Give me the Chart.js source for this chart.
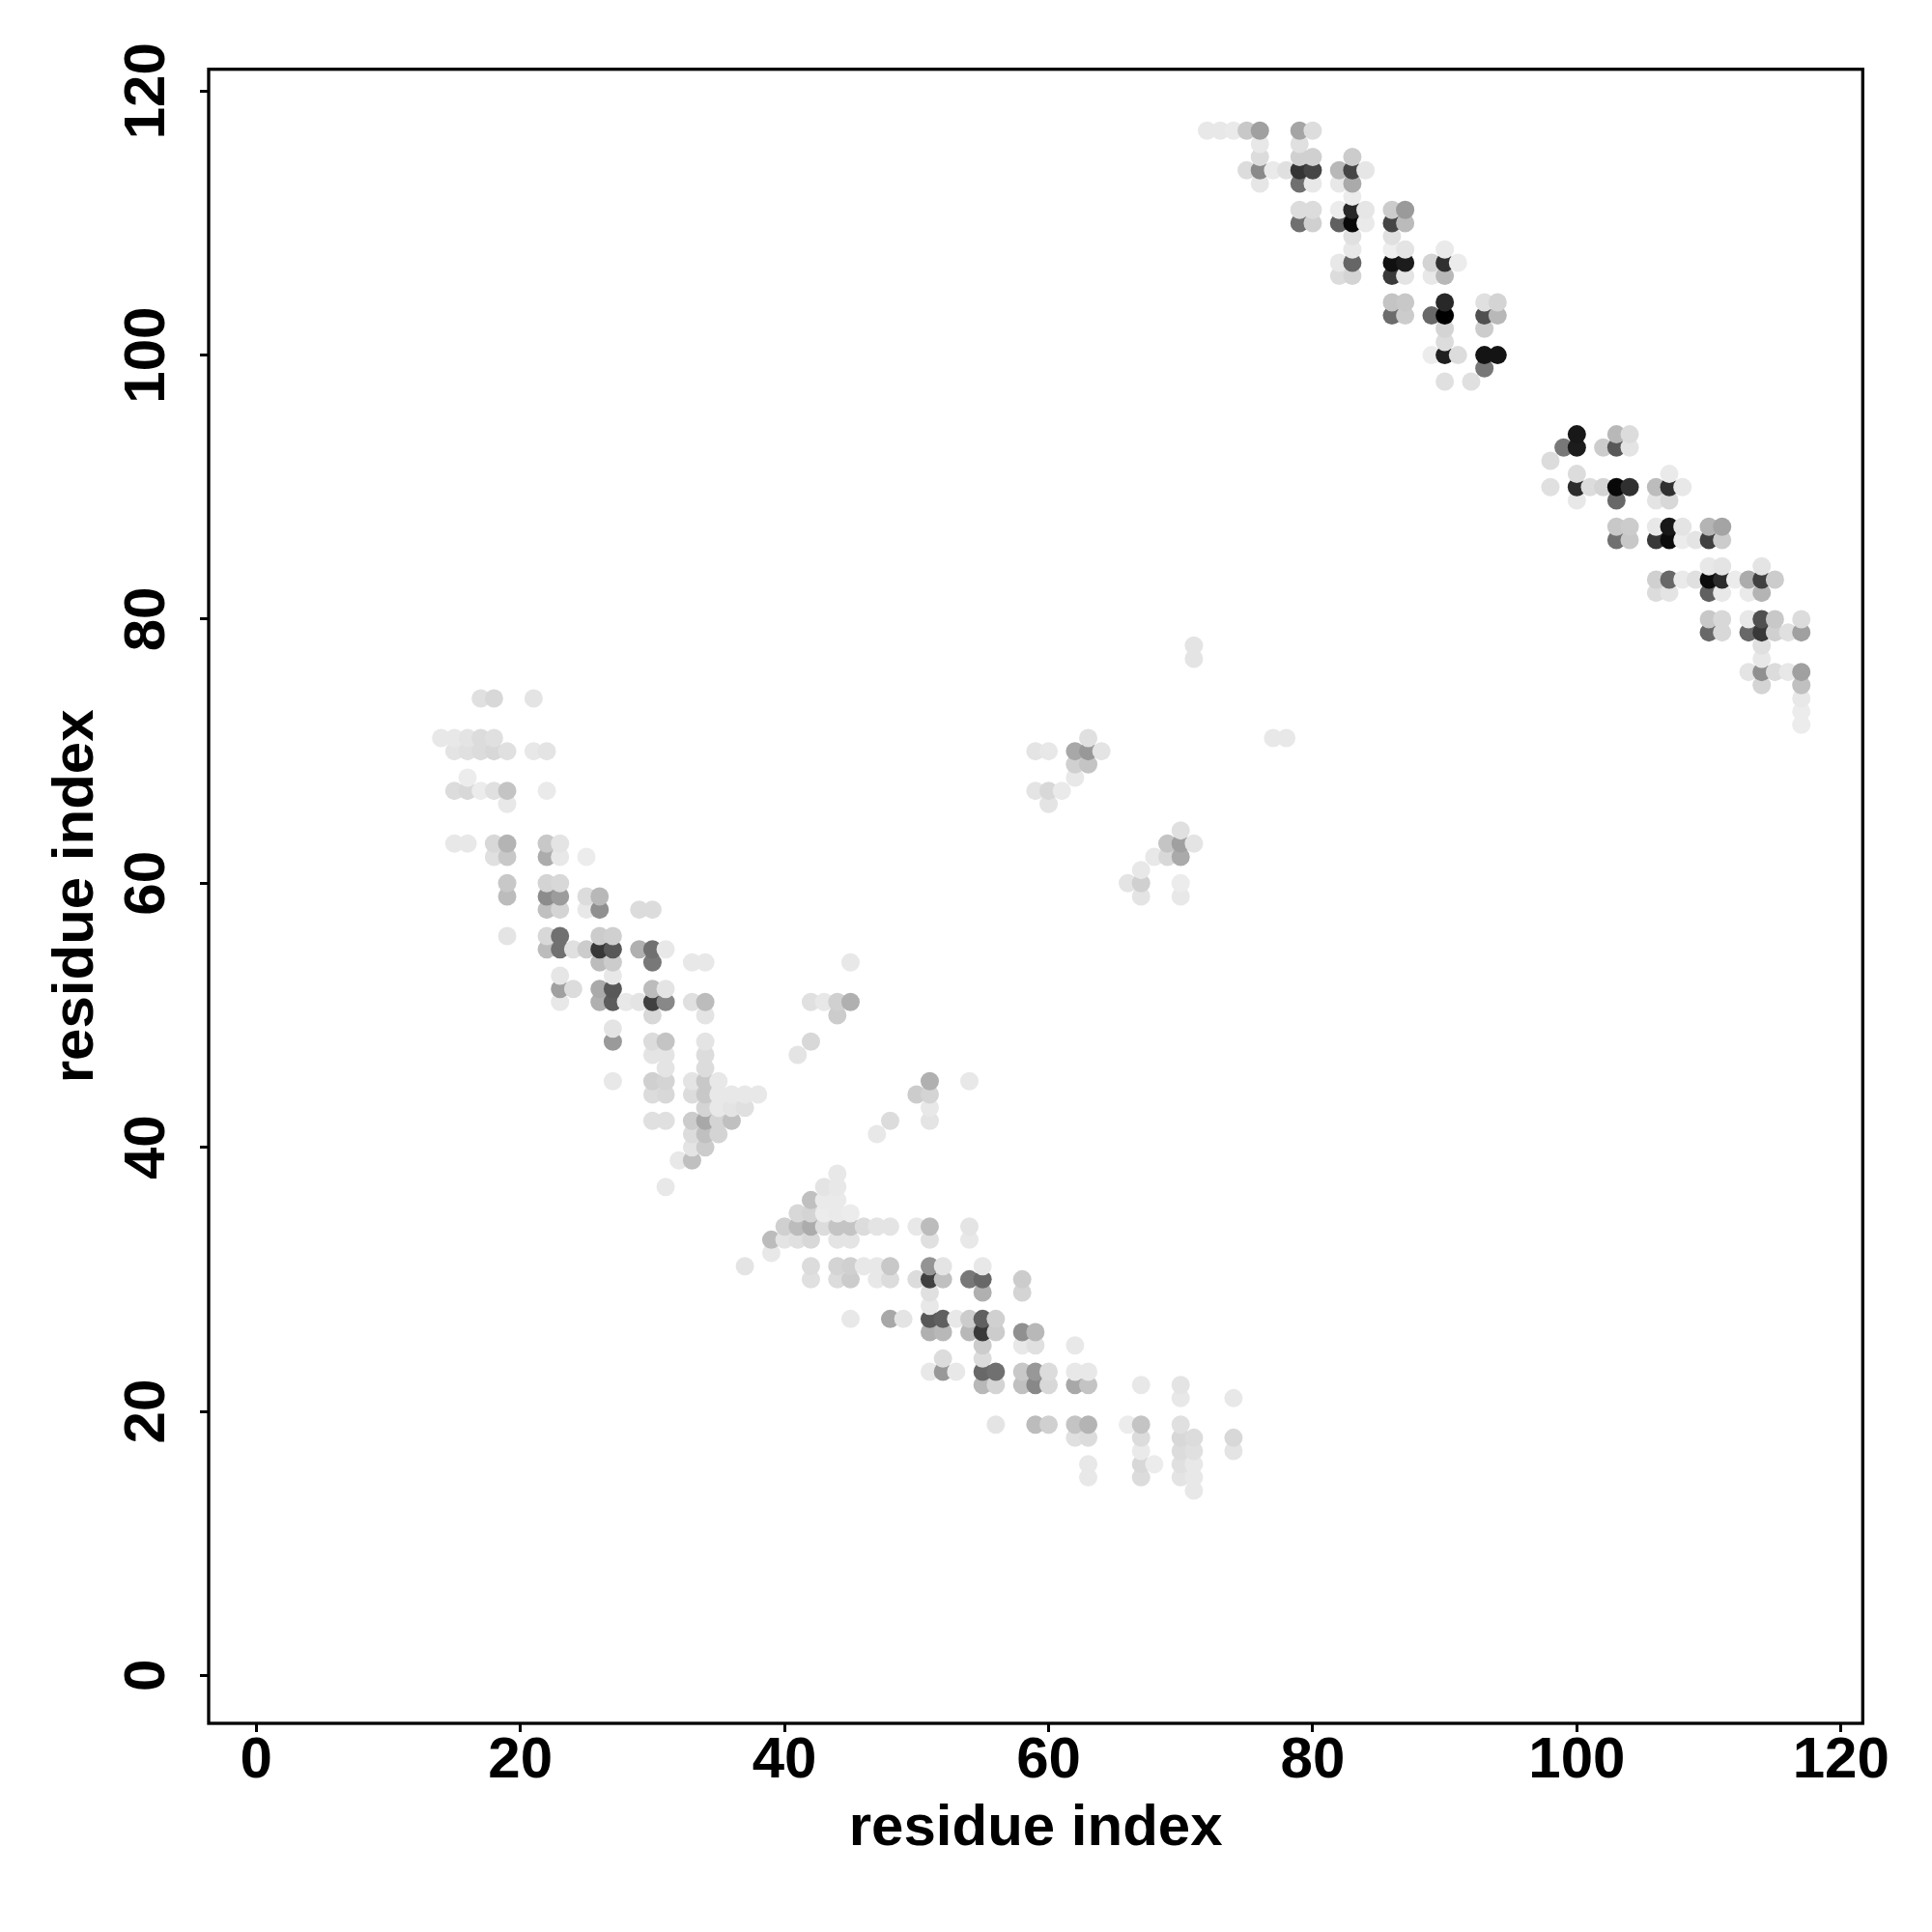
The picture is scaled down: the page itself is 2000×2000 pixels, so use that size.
<!DOCTYPE html>
<html>
<head>
<meta charset="utf-8">
<script src="https://cdn.jsdelivr.net/npm/chart.js@4/dist/chart.umd.min.js"></script>
<style>
  html, body { margin: 0; padding: 0; background: #fff; }
  canvas { display: block; }
</style>
</head>
<body>
<canvas id="chart" width="2000" height="2000"></canvas>
<script>
var axisTitle = 'residue index';
var tickValues = [0, 20, 40, 60, 80, 100, 120];

// one entry per row of the map: y residue, x residues on that row, grey level of each dot
var rowY = [117, 116, 115, 114, 113, 112, 111, 110, 109, 108, 107, 106, 104, 103, 102, 101, 100, 99, 98,
  94, 93, 92, 91, 90, 89, 87, 86, 84, 83, 82, 80, 79, 78, 77, 76, 75, 74, 73, 72, 71, 70, 69, 68, 67, 66,
  64, 63, 62, 61, 60, 59, 58, 56, 55, 54, 53, 52, 51, 50, 49, 48, 47, 46, 45, 44, 43, 42, 41, 40, 39, 38,
  37, 36, 35, 34, 33, 32, 31, 30, 29, 28, 27, 26, 25, 24, 23, 22, 21, 19, 18, 17, 16, 15, 14];

var rowX = [
  [72, 73, 74, 75, 76, 79, 80],
  [76, 79],
  [76, 79, 80, 83],
  [75, 76, 77, 78, 79, 80, 82, 83, 84],
  [76, 79, 80, 82, 83],
  [83],
  [79, 80, 82, 83, 84, 86, 87],
  [79, 80, 82, 83, 84, 86, 87],
  [83, 86],
  [83, 86, 87, 90],
  [82, 83, 86, 87, 89, 90, 91],
  [82, 83, 86, 87, 89, 90],
  [86, 87, 90, 93, 94],
  [86, 87, 89, 90, 93, 94],
  [90, 93],
  [90],
  [89, 90, 91, 93, 94],
  [93],
  [90, 92],
  [100, 103, 104],
  [99, 100, 102, 103, 104],
  [98],
  [100, 107],
  [98, 100, 101, 102, 103, 104, 106, 107, 108],
  [100, 103, 106, 107],
  [103, 104, 106, 107, 108, 110, 111],
  [103, 104, 106, 107, 108, 109, 110, 111],
  [110, 111, 114],
  [106, 107, 108, 109, 110, 111, 112, 113, 114, 115],
  [106, 107, 110, 111, 113, 114],
  [110, 111, 113, 114, 115, 117],
  [110, 111, 113, 114, 115, 116, 117],
  [71, 114],
  [71, 114],
  [113, 114, 115, 116, 117],
  [114, 117],
  [17, 18, 21, 117],
  [117],
  [117],
  [14, 15, 16, 17, 18, 63, 77, 78],
  [15, 16, 17, 18, 19, 21, 22, 59, 60, 62, 63, 64],
  [62, 63],
  [16, 62],
  [15, 16, 17, 18, 19, 22, 59, 60, 61],
  [19, 60],
  [70],
  [15, 16, 18, 19, 22, 23, 69, 70, 71],
  [18, 19, 22, 23, 25, 68, 69, 70],
  [67],
  [19, 22, 23, 66, 67, 70],
  [19, 22, 23, 25, 26, 67, 70],
  [22, 23, 25, 26, 29, 30],
  [19, 22, 23, 26, 27],
  [22, 23, 24, 25, 26, 27, 29, 30, 31],
  [26, 27, 30, 33, 34, 45],
  [23, 27],
  [23, 24, 26, 27, 30, 31],
  [23, 26, 27, 28, 29, 30, 31, 33, 34, 42, 43, 44, 45],
  [30, 34, 44],
  [27],
  [27, 30, 31, 34, 42],
  [30, 31, 34, 41],
  [31, 34],
  [27, 30, 31, 33, 34, 35, 51, 54],
  [30, 31, 33, 34, 35, 36, 37, 38, 50, 51],
  [34, 35, 36, 37, 51],
  [30, 31, 33, 34, 35, 36, 48, 51],
  [33, 34, 35, 47],
  [33, 34],
  [32, 33],
  [44],
  [31, 43, 44],
  [42, 43, 44],
  [41, 42, 43, 44, 45],
  [40, 41, 42, 43, 44, 45, 46, 47, 48, 50, 51, 54],
  [39, 40, 41, 42, 44, 45, 51, 54],
  [39],
  [37, 42, 44, 45, 46, 47, 48, 51, 52, 55],
  [42, 44, 45, 47, 48, 50, 51, 52, 54, 55, 58],
  [51, 55, 58],
  [51],
  [45, 48, 49, 51, 52, 53, 54, 55, 56],
  [51, 52, 54, 55, 56, 58, 59],
  [55, 58, 59, 62],
  [52, 55],
  [51, 52, 53, 55, 56, 58, 59, 60, 62, 63],
  [55, 56, 58, 59, 60, 62, 63, 67, 70],
  [70, 74],
  [56, 59, 60, 62, 63, 66, 67, 70],
  [62, 63, 67, 70, 71, 74],
  [67, 70, 71, 74],
  [63, 67, 68, 70, 71],
  [63, 67, 70, 71],
  [71]
];

var rowGrey = [
  [0xe8, 0xe8, 0xea, 0xc8, 0xa0, 0xa5, 0xdd],
  [0xe8, 0xe0],
  [0xdc, 0xd0, 0xd0, 0xcc],
  [0xdc, 0x8a, 0xea, 0xe0, 0x35, 0x45, 0xb8, 0x45, 0xe6],
  [0xe6, 0x70, 0xe8, 0xe8, 0xaa],
  [0xec],
  [0xdc, 0xdc, 0xec, 0x28, 0xe6, 0xcc, 0x9a],
  [0x70, 0xd0, 0x60, 0x08, 0xea, 0x45, 0xbb],
  [0xe0, 0xe0],
  [0xe8, 0xee, 0xe4, 0xea],
  [0xe8, 0x66, 0x10, 0x1c, 0xd4, 0x30, 0xec],
  [0xdc, 0xd4, 0x3a, 0xe4, 0xe8, 0xb8],
  [0xc4, 0xc8, 0x28, 0xe0, 0xd4],
  [0x6c, 0xcc, 0x68, 0x00, 0x50, 0xb8],
  [0xd4, 0xcc],
  [0xdc],
  [0xec, 0x20, 0xdc, 0x14, 0x14],
  [0x78],
  [0xe0, 0xe0],
  [0x18, 0xb8, 0xdc],
  [0x78, 0x1c, 0xcc, 0x58, 0xe4],
  [0xdc],
  [0xdc, 0xea],
  [0xe0, 0x2c, 0xdc, 0xd4, 0x08, 0x30, 0xbc, 0x30, 0xe8],
  [0xe8, 0x68, 0xe4, 0xd8],
  [0xc8, 0xcc, 0xe8, 0x18, 0xe4, 0xb4, 0xa4],
  [0x70, 0xc8, 0x38, 0x0c, 0xec, 0xe4, 0x40, 0xcc],
  [0xe8, 0xe4, 0xe4],
  [0xd0, 0x68, 0xea, 0xe0, 0x0c, 0x2c, 0xec, 0xac, 0x40, 0xcc],
  [0xdc, 0xe4, 0x60, 0xe8, 0xea, 0xb4],
  [0xc8, 0xd8, 0xe8, 0x50, 0xc8, 0xdc],
  [0x68, 0xd8, 0x68, 0x38, 0xd0, 0xe0, 0xa0],
  [0xe4, 0xe0],
  [0xe4, 0xe8],
  [0xe4, 0x90, 0xdc, 0xe8, 0xa0],
  [0xd4, 0xc0],
  [0xe0, 0xd8, 0xe4, 0xe8],
  [0xec],
  [0xec],
  [0xe8, 0xe8, 0xe4, 0xdc, 0xe0, 0xe0, 0xe8, 0xe8],
  [0xe4, 0xe0, 0xdc, 0xd8, 0xe0, 0xe8, 0xe4, 0xe4, 0xe8, 0xa8, 0x98, 0xe4],
  [0xd0, 0xc4],
  [0xec, 0xe8],
  [0xdc, 0xd8, 0xec, 0xe0, 0xc4, 0xea, 0xe4, 0xd8, 0xea],
  [0xe8, 0xe4],
  [0xe0],
  [0xe8, 0xe8, 0xd8, 0xb4, 0xc8, 0xe4, 0xc4, 0xa0, 0xe4],
  [0xe0, 0xc8, 0xac, 0xe8, 0xec, 0xe8, 0xd8, 0xaa],
  [0xe8],
  [0xc8, 0xd4, 0xd8, 0xe4, 0xd0, 0xec],
  [0xbc, 0x8c, 0x9c, 0xdc, 0xb8, 0xe4, 0xe8],
  [0xc0, 0xd4, 0xe8, 0x90, 0xdc, 0xdc],
  [0xe4, 0xd8, 0x70, 0xcc, 0xd0],
  [0xbc, 0x70, 0xe0, 0xcc, 0x38, 0x58, 0xb0, 0x70, 0xe8],
  [0xbc, 0xcc, 0x78, 0xe8, 0xe8, 0xe8],
  [0xe6, 0xe8],
  [0xa0, 0xdc, 0xaa, 0x58, 0xbc, 0xe4],
  [0xe8, 0xb0, 0x5c, 0xe8, 0xe4, 0x40, 0x88, 0xe0, 0xbc, 0xe0, 0xe8, 0xd0, 0xb0],
  [0xd8, 0xe4, 0xcc],
  [0xe4],
  [0x9a, 0xdc, 0xc4, 0xe4, 0xd8],
  [0xe4, 0xe4, 0xdc, 0xe4],
  [0xe4, 0xdc],
  [0xe8, 0xd0, 0xd4, 0xe4, 0xc8, 0xe8, 0xb0, 0xe8],
  [0xdc, 0xd8, 0xdc, 0xc8, 0xe8, 0xe8, 0xe8, 0xe8, 0xcc, 0xd4],
  [0xd4, 0xe8, 0xe4, 0xe0, 0xe8],
  [0xe0, 0xe0, 0xcc, 0xa8, 0xd4, 0xc0, 0xdc, 0xe4],
  [0xdc, 0xc0, 0xd4, 0xe8],
  [0xe4, 0xcc],
  [0xe8, 0xc0],
  [0xe8],
  [0xe8, 0xe4, 0xe8],
  [0xc0, 0xea, 0xea],
  [0xd8, 0xd4, 0xec, 0xea, 0xec],
  [0xd0, 0xbc, 0xac, 0xdc, 0xc4, 0xc4, 0xdc, 0xe4, 0xe4, 0xe8, 0xbc, 0xe4],
  [0xbc, 0xe4, 0xe0, 0xd8, 0xe4, 0xe4, 0xe0, 0xe8],
  [0xe8],
  [0xe4, 0xdc, 0xd4, 0xd0, 0xe8, 0xe8, 0xc8, 0x94, 0xe4, 0xe8],
  [0xe0, 0xdc, 0xcc, 0xe8, 0xdc, 0xdc, 0x40, 0xc0, 0x78, 0x68, 0xcc],
  [0xe0, 0xb0, 0xd4],
  [0xe8],
  [0xe8, 0xa8, 0xe4, 0x58, 0x60, 0xe8, 0xcc, 0x60, 0xd0],
  [0xb0, 0xb8, 0xb8, 0x38, 0xcc, 0x90, 0xb8],
  [0xcc, 0xe8, 0xe0, 0xe8],
  [0xdc, 0xdc],
  [0xe8, 0x98, 0xe8, 0x68, 0x70, 0xc8, 0x98, 0xdc, 0xe8, 0xe8],
  [0xb8, 0xd4, 0xc0, 0x88, 0xd8, 0xa8, 0xc4, 0xe8, 0xe4],
  [0xe8, 0xe8],
  [0xe4, 0xbc, 0xd0, 0xc4, 0xb4, 0xec, 0xc4, 0xe0],
  [0xe0, 0xdc, 0xdc, 0xd8, 0xdc, 0xd8],
  [0xea, 0xdc, 0xe0, 0xe4],
  [0xe8, 0xd8, 0xec, 0xe0, 0xe8],
  [0xe8, 0xdc, 0xe4, 0xe8],
  [0xe8]
];

function buildPoints() {
  var points = [];
  rowY.forEach(function (y, r) {
    rowX[r].forEach(function (x, c) {
      points.push({ x: x, y: y, grey: rowGrey[r][c] });
    });
  });
  // later columns paint over earlier ones
  points.sort(function (a, b) { return a.x - b.x || a.y - b.y; });
  return points;
}

var points = buildPoints();

function fixedTicks(scale) {
  scale.ticks = tickValues.map(function (v) { return { value: v }; });
}

var frame = {
  id: 'frame',
  afterDatasetsDraw: function (chart) {
    var a = chart.chartArea;
    var ctx = chart.ctx;
    ctx.save();
    ctx.strokeStyle = '#000';
    ctx.lineWidth = 3.3;
    ctx.strokeRect(a.left, a.top, a.right - a.left, a.bottom - a.top);
    ctx.restore();
  }
};

var labelFont = { family: '"Liberation Sans"', size: 60, weight: 'bold' };

new Chart(document.getElementById('chart').getContext('2d'), {
  type: 'scatter',
  data: {
    datasets: [{
      data: points,
      pointRadius: 9.5,
      pointBorderWidth: 0,
      pointBackgroundColor: points.map(function (p) {
        return 'rgb(' + p.grey + ',' + p.grey + ',' + p.grey + ')';
      })
    }]
  },
  options: {
    responsive: false,
    animation: false,
    devicePixelRatio: 1,
    layout: { padding: { top: 71.7, right: 71.7, left: 0, bottom: 0 } },
    plugins: { legend: { display: false }, tooltip: { enabled: false } },
    scales: {
      x: {
        type: 'linear',
        min: -3.606,
        max: 121.65,
        afterBuildTicks: fixedTicks,
        afterFit: function (scale) { scale.height = 216; },
        border: { display: false },
        grid: { drawOnChartArea: false, drawTicks: true, tickLength: 9, tickWidth: 3, tickColor: '#000' },
        ticks: { color: '#000', font: labelFont, padding: -6, autoSkip: false, maxRotation: 0, minRotation: 0 },
        title: { display: true, text: axisTitle, color: '#000', font: labelFont, padding: { top: 0, bottom: 71 } }
      },
      y: {
        type: 'linear',
        min: -3.63,
        max: 121.65,
        afterBuildTicks: fixedTicks,
        afterFit: function (scale) { scale.width = 216; },
        border: { display: false },
        grid: { drawOnChartArea: false, drawTicks: true, tickLength: 9, tickWidth: 3, tickColor: '#000' },
        ticks: { color: '#000', font: labelFont, padding: 3, autoSkip: false, maxRotation: 90, minRotation: 90, crossAlign: 'center' },
        title: { display: true, text: axisTitle, color: '#000', font: labelFont, padding: { top: 43, bottom: 0 } }
      }
    }
  },
  plugins: [frame]
});
</script>
</body>
</html>
